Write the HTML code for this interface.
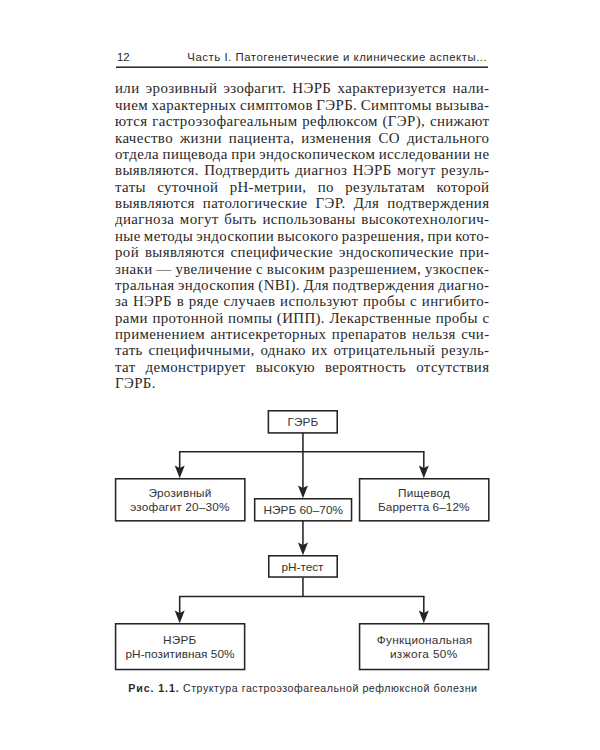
<!DOCTYPE html>
<html><head><meta charset="utf-8"><style>
html,body{margin:0;padding:0;background:#fff;}
body{width:600px;height:750px;position:relative;overflow:hidden;}
.j,.l{position:absolute;left:114.9px;width:374.1px;font-family:"Liberation Serif",serif;font-size:13.8px;line-height:13.8px;letter-spacing:0.34px;color:#282828;white-space:nowrap;-webkit-text-stroke:0.0px #282828;}
.j{display:flex;justify-content:space-between;width:346.729px;}
.j,.l{transform:scaleX(1.08);transform-origin:0 0;}
svg{position:absolute;left:0;top:0;}
</style></head><body>
<div class="j" style="top:82.44px"><span>или</span><span>эрозивный</span><span>эзофагит.</span><span>НЭРБ</span><span>характеризуется</span><span>нали-</span></div>
<div class="j" style="top:98.82px"><span>чием</span><span>характерных</span><span>симптомов</span><span>ГЭРБ.</span><span>Симптомы</span><span>вызыва-</span></div>
<div class="j" style="top:115.19px"><span>ются</span><span>гастроэзофагеальным</span><span>рефлюксом</span><span>(ГЭР),</span><span>снижают</span></div>
<div class="j" style="top:131.57px"><span>качество</span><span>жизни</span><span>пациента,</span><span>изменения</span><span>СО</span><span>дистального</span></div>
<div class="j" style="top:147.94px"><span>отдела</span><span>пищевода</span><span>при</span><span>эндоскопическом</span><span>исследовании</span><span>не</span></div>
<div class="j" style="top:164.32px"><span>выявляются.</span><span>Подтвердить</span><span>диагноз</span><span>НЭРБ</span><span>могут</span><span>резуль-</span></div>
<div class="j" style="top:180.69px"><span>таты</span><span>суточной</span><span>рН-метрии,</span><span>по</span><span>результатам</span><span>которой</span></div>
<div class="j" style="top:197.07px"><span>выявляются</span><span>патологические</span><span>ГЭР.</span><span>Для</span><span>подтверждения</span></div>
<div class="j" style="top:213.44px"><span>диагноза</span><span>могут</span><span>быть</span><span>использованы</span><span>высокотехнологич-</span></div>
<div class="j" style="top:229.82px"><span>ные</span><span>методы</span><span>эндоскопии</span><span>высокого</span><span>разрешения,</span><span>при</span><span>кото-</span></div>
<div class="j" style="top:246.19px"><span>рой</span><span>выявляются</span><span>специфические</span><span>эндоскопические</span><span>при-</span></div>
<div class="j" style="top:262.57px"><span>знаки</span><span>—</span><span>увеличение</span><span>с</span><span>высоким</span><span>разрешением,</span><span>узкоспек-</span></div>
<div class="j" style="top:278.94px"><span>тральная</span><span>эндоскопия</span><span>(NBI).</span><span>Для</span><span>подтверждения</span><span>диагно-</span></div>
<div class="j" style="top:295.32px"><span>за</span><span>НЭРБ</span><span>в</span><span>ряде</span><span>случаев</span><span>используют</span><span>пробы</span><span>с</span><span>ингибито-</span></div>
<div class="j" style="top:311.69px"><span>рами</span><span>протонной</span><span>помпы</span><span>(ИПП).</span><span>Лекарственные</span><span>пробы</span><span>с</span></div>
<div class="j" style="top:328.07px"><span>применением</span><span>антисекреторных</span><span>препаратов</span><span>нельзя</span><span>счи-</span></div>
<div class="j" style="top:344.44px"><span>тать</span><span>специфичными,</span><span>однако</span><span>их</span><span>отрицательный</span><span>резуль-</span></div>
<div class="j" style="top:360.82px"><span>тат</span><span>демонстрирует</span><span>высокую</span><span>вероятность</span><span>отсутствия</span></div>
<div class="l" style="top:377.19px">ГЭРБ.</div>
<svg width="600" height="750" viewBox="0 0 600 750">
<rect x="268.38" y="410.77" width="68.85" height="22.15" fill="none" stroke="#242424" stroke-width="1.55"/>
<line x1="302.95" y1="433" x2="302.95" y2="452" stroke="#242424" stroke-width="1.55"/>
<line x1="178.95" y1="451.8" x2="424.55" y2="451.8" stroke="#242424" stroke-width="1.55"/>
<line x1="179.7" y1="451.8" x2="179.7" y2="470" stroke="#242424" stroke-width="1.55"/>
<path d="M179.7 478.3 L174.70 465.60 L179.7 467.90 L184.70 465.60 Z" fill="#242424"/>
<line x1="423.8" y1="451.8" x2="423.8" y2="470" stroke="#242424" stroke-width="1.55"/>
<path d="M423.8 478.3 L418.80 465.60 L423.8 467.90 L428.80 465.60 Z" fill="#242424"/>
<line x1="302.95" y1="451.8" x2="302.95" y2="490" stroke="#242424" stroke-width="1.55"/>
<path d="M302.95 498.3 L297.95 485.60 L302.95 487.90 L307.95 485.60 Z" fill="#242424"/>
<rect x="115.58" y="478.77" width="129.25" height="42.05" fill="none" stroke="#242424" stroke-width="1.55"/>
<rect x="254.68" y="498.77" width="96.85" height="22.05" fill="none" stroke="#242424" stroke-width="1.55"/>
<rect x="359.57" y="478.77" width="129.25" height="42.05" fill="none" stroke="#242424" stroke-width="1.55"/>
<line x1="302.95" y1="521" x2="302.95" y2="547" stroke="#242424" stroke-width="1.55"/>
<path d="M302.95 555.3 L297.95 542.60 L302.95 544.90 L307.95 542.60 Z" fill="#242424"/>
<rect x="268.77" y="555.77" width="68.45" height="21.25" fill="none" stroke="#242424" stroke-width="1.55"/>
<line x1="302.95" y1="577.5" x2="302.95" y2="597" stroke="#242424" stroke-width="1.55"/>
<line x1="178.95" y1="596.4" x2="424.55" y2="596.4" stroke="#242424" stroke-width="1.55"/>
<line x1="179.7" y1="596.4" x2="179.7" y2="615" stroke="#242424" stroke-width="1.55"/>
<path d="M179.7 623.3 L174.70 610.60 L179.7 612.90 L184.70 610.60 Z" fill="#242424"/>
<line x1="423.8" y1="596.4" x2="423.8" y2="615" stroke="#242424" stroke-width="1.55"/>
<path d="M423.8 623.3 L418.80 610.60 L423.8 612.90 L428.80 610.60 Z" fill="#242424"/>
<rect x="115.58" y="623.77" width="129.05" height="45.75" fill="none" stroke="#242424" stroke-width="1.55"/>
<rect x="359.57" y="623.77" width="129.05" height="45.75" fill="none" stroke="#242424" stroke-width="1.55"/>
<g font-family="Liberation Sans" font-size="11.8" fill="#333">
<text x="287.50" y="426.2" textLength="30.80" lengthAdjust="spacing">ГЭРБ</text>
<text x="148.40" y="496.6" textLength="63.00" lengthAdjust="spacing">Эрозивный</text>
<text x="130.30" y="510.6" textLength="99.10" lengthAdjust="spacing">эзофагит 20–30%</text>
<text x="263.40" y="514" textLength="79.60" lengthAdjust="spacing">НЭРБ 60–70%</text>
<text x="397.95" y="497" textLength="52.05" lengthAdjust="spacing">Пищевод</text>
<text x="378.00" y="511.2" textLength="91.50" lengthAdjust="spacing">Барретта 6–12%</text>
<text x="281.60" y="570.9" textLength="41.80" lengthAdjust="spacing">pH-тест</text>
<text x="162.95" y="643.8" textLength="33.30" lengthAdjust="spacing">НЭРБ</text>
<text x="125.50" y="657.5" textLength="109.00" lengthAdjust="spacing">pH-позитивная 50%</text>
<text x="376.80" y="644.2" textLength="95.40" lengthAdjust="spacing">Функциональная</text>
<text x="389.90" y="657.5" textLength="67.40" lengthAdjust="spacing">изжога 50%</text>
</g>
<g font-family="Liberation Sans" font-size="11.4" fill="#2a2a2a">
<text x="117.00" y="61.2" textLength="12.60" lengthAdjust="spacing">12</text>
<text x="187.30" y="61.3" textLength="299.40" lengthAdjust="spacing">Часть I. Патогенетические и клинические аспекты...</text>
</g>
<g font-family="Liberation Sans" font-size="10.6" fill="#2a2a2a">
<text x="128.30" y="691.8" textLength="50.40" lengthAdjust="spacing" font-weight="bold">Рис. 1.1.</text>
<text x="183.00" y="692" textLength="294.00" lengthAdjust="spacing">Структура гастроэзофагеальной рефлюксной болезни</text>
</g>
<rect x="116" y="66.45" width="372" height="1.5" fill="#242424"/>
</svg>
</body></html>
